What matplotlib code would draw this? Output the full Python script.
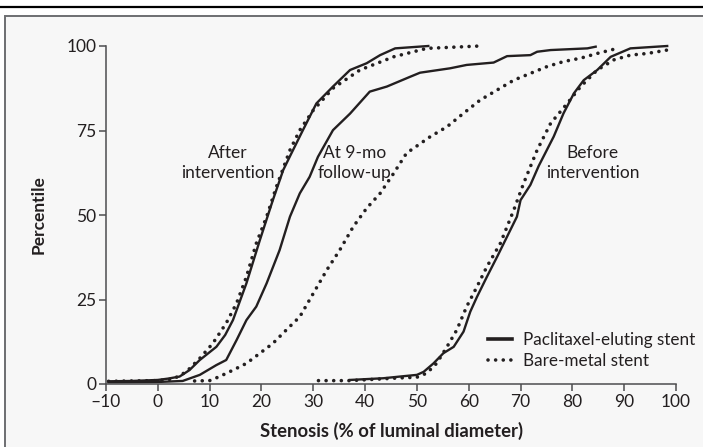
import matplotlib.pyplot as plt
from matplotlib.lines import Line2D
from matplotlib.patches import Rectangle

# cumulative distributions
after_pes_x = [-9.5, -5, 0, 2, 4.2, 6.1, 8.1, 11.3, 13, 14.5, 17.1, 19.7, 22.2, 24.2, 25.8,
               28, 30.6, 33.8, 37.1, 40.3, 42.9, 45.8, 52.2]
after_pes_y = [0.8, 0.9, 1.2, 1.6, 2.2, 4.1, 7.1, 11, 14.5, 18.9, 29.8, 42.6, 54.4, 63.3, 68.3,
               75.1, 83, 88, 92.9, 94.9, 97.3, 99.3, 100]

after_bms_x = [-9.5, 0, 3, 5.5, 8.1, 10.6, 13.2, 15.2, 17.1, 19, 21, 22.9, 25.5, 27.4, 30,
               33.8, 39, 45.5, 51.9, 62.2]
after_bms_y = [0.8, 1.0, 1.5, 3.6, 7.6, 12, 18, 23.9, 31.7, 41.6, 49.5, 58.4, 69.2, 75.1, 81,
               87.5, 92.9, 96.8, 99.3, 100]

fu_pes_x = [-9.5, 0, 4.8, 8.1, 11.3, 13.2, 15.2, 17.1, 19, 21, 23.5, 25.5, 27.4, 29.3, 30.9,
            33.8, 37.1, 40.9, 44.2, 48.7, 50.6, 56.4, 59.6, 64.8, 67.4, 71.9, 73.2, 75.8,
            82.9, 84.5]
fu_pes_y = [0.5, 0.6, 0.9, 2.7, 5.6, 7.1, 13, 18.9, 22.9, 29.8, 39.6, 49.5, 56.4, 61.3, 67.2,
            75.1, 80, 86.5, 88, 90.9, 92.1, 93.4, 94.4, 95.1, 97, 97.3, 98.3, 98.8, 99.3, 99.8]

fu_bms_x = [7.1, 10, 11.9, 14.5, 17.1, 19.7, 22.2, 24.8, 27.4, 30, 32.6, 35.1, 37.7, 40.3,
            42.9, 45.5, 48, 52.6, 55.8, 59, 62.2, 65.5, 68.7, 71.9, 75.1, 78.3, 81.6, 84.8,
            88.7]
fu_bms_y = [0.9, 1.0, 2.2, 4.1, 6.1, 9.1, 12, 16, 19.9, 26.8, 33.7, 39.6, 46.5, 52, 56.4,
            62.3, 68.3, 73.2, 76.1, 80.1, 84, 87, 89.9, 91.9, 93.9, 95.4, 96.4, 97.8, 99.3]

before_pes_x = [37.1, 43.5, 46.7, 50, 51.3, 53.2, 55.1, 57.1, 59, 60.3, 61.6, 63.5, 65.5,
                67.4, 69.3, 70, 71.9, 73.5, 76.4, 78.3, 80.3, 82.2, 84.8, 87.4, 91.2, 98.3]
before_pes_y = [1.2, 1.7, 2.2, 2.7, 3.6, 6.1, 9.1, 11, 15.5, 21.4, 25.8, 31.7, 37.7, 43.6,
                49.5, 54.4, 58.9, 64.5, 73.2, 80.1, 86, 89.9, 92.9, 96.8, 99.3, 100]

before_bms_x = [31, 37.1, 46.7, 50, 51.9, 53.8, 55.8, 57.7, 59.6, 61.6, 63.5, 66.1, 68.7,
                70.6, 73.2, 75.8, 79, 81.6, 84.8, 88, 91.2, 94.5, 98.3]
before_bms_y = [1.0, 1.0, 1.8, 2.0, 3.2, 6.1, 11, 16, 22.9, 28.8, 34.7, 41.6, 51.5, 59.4,
                69.2, 77.1, 83, 88, 92.9, 95.9, 97.3, 97.8, 98.8]

x_ticks = [-10, 0, 10, 20, 30, 40, 50, 60, 70, 80, 90, 100]
x_ticklabels = ['\u201310', '0', '10', '20', '30', '40', '50', '60', '70', '80', '90', '100']
y_ticks = [0, 25, 50, 75, 100]

INK = '#231f20'
TXT = '#231f20'
DOTS = (0, (0.01, 2.1))


def main():
    plt.rcParams['font.family'] = ['Lato', 'DejaVu Sans']

    fig = plt.figure(figsize=(7.03, 4.47), dpi=100)

    # panel background and rule on top
    fig.patches.append(Rectangle((5 / 703, -0.05), 1.0, 1 - 16 / 447 + 0.05,
                                 transform=fig.transFigure, facecolor='#f7f7f7',
                                 edgecolor='#6d6e71', linewidth=1.4, zorder=-10))
    fig.add_artist(Line2D([0, 1], [1 - 7 / 447, 1 - 7 / 447], transform=fig.transFigure,
                          color='black', linewidth=1.6))

    ax = fig.add_axes([106 / 703, 1 - 384 / 447, 570 / 703, 338 / 447])
    ax.set_facecolor('none')

    solid_kw = dict(color=INK, linewidth=1.7, clip_on=False)
    dot_kw = dict(color=INK, linewidth=2.6, linestyle=DOTS, dash_capstyle='round', clip_on=False)

    for xs, ys in [(after_pes_x, after_pes_y), (fu_pes_x, fu_pes_y), (before_pes_x, before_pes_y)]:
        ax.plot(xs, ys, **solid_kw)
    for xs, ys in [(after_bms_x, after_bms_y), (fu_bms_x, fu_bms_y), (before_bms_x, before_bms_y)]:
        ax.plot(xs, ys, **dot_kw)

    ax.set_xlim(-10, 100)
    ax.set_ylim(0, 100)
    ax.set_xticks(x_ticks)
    ax.set_xticklabels(x_ticklabels)
    ax.set_yticks(y_ticks)
    for side in ['top', 'right']:
        ax.spines[side].set_visible(False)
    for side in ['left', 'bottom']:
        ax.spines[side].set_color('#4d4d4f')
        ax.spines[side].set_linewidth(1.1)
    ax.tick_params(direction='out', length=5, width=1.1, color='#4d4d4f', labelcolor=TXT,
                   labelsize=12.5, pad=2)

    ax.set_xlabel('Stenosis (% of luminal diameter)', fontsize=13.3, fontweight='bold',
                  color=TXT, labelpad=9)
    ax.set_ylabel('Percentile', fontsize=12.5, fontweight='bold', color=TXT, labelpad=14)

    lab_kw = dict(fontsize=12.5, color=TXT, ha='center', va='center', linespacing=1.25)
    ax.text(13.5, 65.4, 'After\nintervention', **lab_kw)
    ax.text(37.9, 65.4, 'At 9-mo\nfollow-up', **lab_kw)
    ax.text(83.9, 65.4, 'Before\nintervention', **lab_kw)

    handles = [Line2D([], [], color=INK, linewidth=2.6),
               Line2D([], [], color=INK, linewidth=2.6, linestyle=DOTS, dash_capstyle='round')]
    ax.legend(handles, ['Paclitaxel-eluting stent', 'Bare-metal stent'], loc='lower right',
              bbox_to_anchor=(1.06, 0.0), frameon=False, fontsize=12.3, handlelength=1.45,
              handletextpad=0.6, labelspacing=0.3, labelcolor=TXT)

    fig.savefig('out.png', dpi=100)


if __name__ == "__main__":
    main()
